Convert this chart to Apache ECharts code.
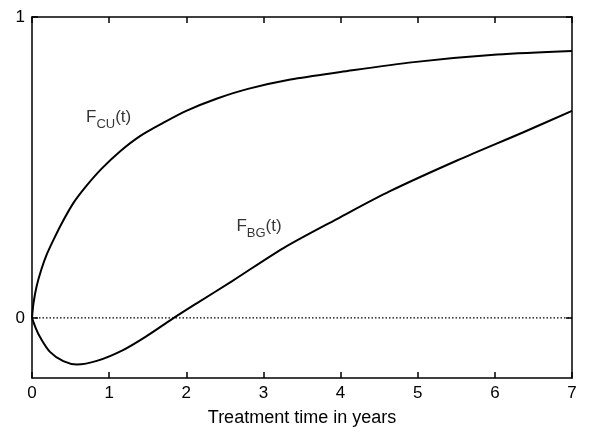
<!DOCTYPE html>
<html>
<head>
<meta charset="utf-8">
<script src="https://cdn.jsdelivr.net/npm/echarts@6/dist/echarts.min.js"></script>
<style>html,body{margin:0;padding:0;background:#fff}#c{width:600px;height:433px}</style>
</head>
<body>
<div id="c"></div>
<script>
const xTicks = [0, 1, 2, 3, 4, 5, 6, 7];
const yTickLabels = [0, 1];
const cuT = [0, 0.02, 0.06, 0.12, 0.19, 0.28, 0.4, 0.54, 0.7, 0.9, 1.14, 1.4, 1.7, 2.0, 2.4, 2.8, 3.35, 4.0, 4.95, 6.03, 7];
const cuV = [0, 0.05, 0.105, 0.16, 0.21, 0.26, 0.321, 0.383, 0.437, 0.495, 0.553, 0.604, 0.648, 0.688, 0.729, 0.761, 0.792, 0.817, 0.85, 0.875, 0.887];
const bgT = [0, 0.05, 0.104, 0.233, 0.406, 0.58, 0.84, 1.18, 1.49, 1.81, 2.14, 2.6, 3.26, 4.0, 4.64, 5.51, 6.37, 7];
const bgV = [0, -0.035, -0.064, -0.113, -0.144, -0.155, -0.143, -0.107, -0.06, -0.005, 0.049, 0.123, 0.232, 0.335, 0.421, 0.523, 0.617, 0.688];
const labelCU = { t: 0.70, v: 0.66, main: 'F', sub: 'CU', tail: '(t)' };
const labelBG = { t: 2.65, v: 0.30, main: 'F', sub: 'BG', tail: '(t)' };
const xName = 'Treatment time in years';

const FONT = 'Liberation Sans, Arial, sans-serif';
const zip = (a, b) => a.map((x, i) => [x, b[i]]);
const rich = {
  a: { fontSize: 17, fontFamily: FONT, color: '#000', lineHeight: 20, verticalAlign: 'top' },
  b: { fontSize: 13, fontFamily: FONT, color: '#000', lineHeight: 20, padding: [9, 0, 0, 0], verticalAlign: 'top' }
};
const labelSeries = (L) => ({
  type: 'scatter', symbolSize: 0, silent: true, z: 5,
  data: [[L.t, L.v]],
  label: {
    show: true, position: 'inside', align: 'left', verticalAlign: 'middle',
    formatter: '{a|' + L.main + '}{b|' + L.sub + '}{a|' + L.tail + '}', rich: rich
  }
});
const axisLineStyle = { color: '#000', width: 1.5 };
const chart = echarts.init(document.getElementById('c'), null, { renderer: 'canvas' });
chart.setOption({
  animation: false,
  backgroundColor: '#fff',
  grid: { left: 32, right: 28, top: 17, bottom: 55 },
  xAxis: [{
    type: 'value', min: 0, max: 7, interval: 1, position: 'bottom',
    name: xName, nameLocation: 'middle', nameGap: 31,
    nameTextStyle: { fontSize: 18, fontFamily: FONT, color: '#000' },
    axisLine: { onZero: false, lineStyle: axisLineStyle },
    axisTick: { inside: true, length: 6, lineStyle: axisLineStyle, customValues: xTicks },
    axisLabel: { fontSize: 17, fontFamily: FONT, color: '#000', margin: 7, customValues: xTicks },
    splitLine: { show: false }
  }, {
    type: 'value', min: 0, max: 7, interval: 1, position: 'top',
    axisLine: { onZero: false, lineStyle: axisLineStyle },
    axisTick: { inside: true, length: 6, lineStyle: axisLineStyle, customValues: xTicks },
    axisLabel: { show: false },
    splitLine: { show: false }
  }],
  yAxis: [{
    type: 'value', min: -0.2, max: 1, interval: 0.2, position: 'left',
    axisLine: { show: true, onZero: false, lineStyle: axisLineStyle },
    axisTick: { show: true, inside: true, length: 6, lineStyle: axisLineStyle, customValues: yTickLabels },
    axisLabel: { fontSize: 17, fontFamily: FONT, color: '#000', margin: 7, customValues: yTickLabels },
    splitLine: { show: false }
  }, {
    type: 'value', min: -0.2, max: 1, interval: 0.2, position: 'right',
    axisLine: { show: true, onZero: false, lineStyle: axisLineStyle },
    axisTick: { show: true, inside: true, length: 6, lineStyle: axisLineStyle, customValues: yTickLabels },
    axisLabel: { show: false },
    splitLine: { show: false }
  }],
  series: [
    {
      type: 'line', data: [[0, 0], [7, 0]], symbol: 'none', silent: true,
      lineStyle: { color: '#000', width: 1.3, type: [1.5, 2] }
    },
    {
      type: 'line', data: zip(cuT, cuV), symbol: 'none', smooth: 0.3,
      lineStyle: { color: '#000', width: 2 }
    },
    {
      type: 'line', data: zip(bgT, bgV), symbol: 'none', smooth: 0.3,
      lineStyle: { color: '#000', width: 2 }
    },
    labelSeries(labelCU),
    labelSeries(labelBG)
  ]
});
</script>
</body>
</html>
